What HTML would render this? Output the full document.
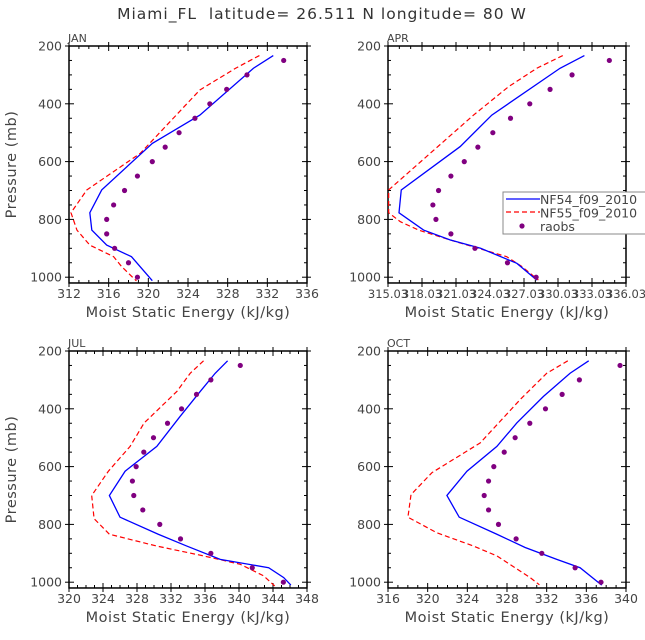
<!DOCTYPE html>
<html><head><meta charset="utf-8"><style>
html,body{margin:0;padding:0;background:#fff}
svg{display:block;font-family:"DejaVu Sans","Liberation Sans",sans-serif}
</style></head><body>
<svg id="chart" width="645" height="640" viewBox="0 0 645 640" xmlns="http://www.w3.org/2000/svg">
<text x="322" y="19" font-size="15.5" letter-spacing="1" text-anchor="middle" fill="#333" xml:space="preserve">Miami_FL  latitude= 26.511 N longitude= 80 W</text>
</svg>
<script>
// ---- data ----
const obsP = [250,300,350,400,450,500,550,600,650,700,750,800,850,900,950,1000];
const janObs = [333.65,329.95,327.9,326.2,324.7,323.1,321.7,320.4,318.9,317.6,316.5,315.8,315.8,316.6,318.0,318.9];
const janBlueP = [233,277,439,537,698,777,837,889,929,1012];
const janBlue = [332.6,330.6,325.2,320.4,315.3,314.1,314.3,315.8,318.3,320.4];
const janRedP = [233,277,352,571,698,777,837,889,929,963,1013];
const janRed = [331.2,328.8,325.2,319.2,313.8,312.2,312.8,314.1,316.5,317.3,318.8];
const aprObs = [334.56,331.27,329.33,327.54,325.84,324.28,322.96,321.76,320.58,319.49,318.99,319.26,320.58,322.70,325.57,328.1];
const aprBlueP = [233,277,439,548,698,777,837,871,900,952,1010];
const aprBlue = [332.36,330.21,324.19,321.4,316.2,316.0,318.17,320.5,323.2,326.4,328.16];
const aprRedP = [233,277,341,439,698,777,808,837,871,929,963,1010];
const aprRed = [330.45,328.16,325.66,322.58,315.09,315.09,316.12,317.73,320.5,325.5,326.84,328.3];
const julObs = [340.15,336.69,335.0,333.24,331.59,329.94,328.8,327.9,327.46,327.62,328.68,330.68,333.12,336.69,341.56,345.22];
const julBlueP = [234,277,340,426,530,616,700,775,834,875,921,950,984,1010];
const julBlue = [338.66,337.2,335.44,333.08,330.33,326.6,324.75,326.0,330.5,333.86,337.79,343.49,345.26,346.1];
const julRedP = [234,277,340,449,530,616,700,780,834,875,909,938,978,1013];
const julRed = [335.83,334.26,332.69,328.84,327.19,324.63,322.67,322.95,324.75,330.33,335.83,340.15,342.9,344.2];
const octObs = [339.4,335.3,333.56,331.88,330.3,328.82,327.72,326.67,326.14,325.7,326.14,327.14,328.92,331.51,334.87,337.48];
const octBlueP = [234,277,357,449,530,616,700,775,834,880,921,950,1010];
const octBlue = [336.24,334.36,331.68,328.99,326.98,323.96,321.94,323.18,326.98,329.83,333.02,335.37,337.55];
const octRedP = [234,277,368,518,621,697,775,829,875,909,950,984,1009];
const octRed = [334.13,332.01,329.33,325.3,320.43,318.32,318.01,320.93,324.63,326.98,328.82,330.33,331.27];
const yTicks = [200,400,600,800,1000];
const janTicks = ["312","316","320","324","328","332","336"];
const aprTicks = ["315.03","318.03","321.03","324.03","327.03","330.03","333.03","336.03"];
const julTicks = ["320","324","328","332","336","340","344","348"];
const octTicks = ["316","320","324","328","332","336","340"];
const legendLabels = ["NF54_f09_2010","NF55_f09_2010","raobs"];

const NS="http://www.w3.org/2000/svg";
const svg=document.getElementById('chart');
function mk(tag,attrs,parent){const e=document.createElementNS(NS,tag);for(const k in attrs)e.setAttribute(k,attrs[k]);(parent||svg).appendChild(e);return e;}

const panels=[
 {name:'jan',label:'JAN',x0:69,x1:307,y0:46,xmin:312,xmax:336,step:4,minor:1,ticks:janTicks,obs:janObs,bp:janBlueP,b:janBlue,rp:janRedP,r:janRed,ytitle:true,legend:false},
 {name:'apr',label:'APR',x0:388,x1:626,y0:46,xmin:315.03,xmax:336.03,step:3,minor:1,ticks:aprTicks,obs:aprObs,bp:aprBlueP,b:aprBlue,rp:aprRedP,r:aprRed,ytitle:false,legend:true},
 {name:'jul',label:'JUL',x0:69,x1:307,y0:351,xmin:320,xmax:348,step:4,minor:1,ticks:julTicks,obs:julObs,bp:julBlueP,b:julBlue,rp:julRedP,r:julRed,ytitle:true,legend:false},
 {name:'oct',label:'OCT',x0:388,x1:626,y0:351,xmin:316,xmax:340,step:4,minor:1,ticks:octTicks,obs:octObs,bp:octBlueP,b:octBlue,rp:octRedP,r:octRed,ytitle:false,legend:false}
];
const PPX=0.289; // px per mb
panels.forEach(P=>{
 const g=mk('g',{});
 
 
 const xs=v=>P.x0+(v-P.xmin)/(P.xmax-P.xmin)*(P.x1-P.x0);
 const ys=p=>P.y0+(p-200)*PPX;
 const yb=ys(1020);
 for(let p=200;p<=1000;p+=50){
  const maj=p%200===0, L=maj?5:3;
  mk('line',{x1:P.x0-(maj?4:0),x2:P.x0+L,y1:ys(p),y2:ys(p),stroke:'#000','stroke-width':1},g);
  mk('line',{x1:P.x1-L,x2:P.x1+(maj?4:0),y1:ys(p),y2:ys(p),stroke:'#000','stroke-width':1},g);
 }
 for(let v=P.xmin;v<=P.xmax+1e-6;v+=P.minor){
  const i=Math.round((v-P.xmin)/P.minor), maj=(i%Math.round(P.step/P.minor))===0, L=maj?5:3;
  mk('line',{x1:xs(v),x2:xs(v),y1:yb-L,y2:yb+(maj?4:0),stroke:'#000','stroke-width':1},g);
  mk('line',{x1:xs(v),x2:xs(v),y1:P.y0-(maj?4:0),y2:P.y0+L,stroke:'#000','stroke-width':1},g);
 }
 mk('rect',{x:P.x0,y:P.y0,width:P.x1-P.x0,height:yb-P.y0,fill:'none',stroke:'#000','stroke-width':1.5},g);
 yTicks.forEach(p=>{
  const t=mk('text',{x:P.x0-7,y:ys(p)+4.5,'font-size':12.5,'text-anchor':'end',fill:'#444'},g);
  
  
  t.textContent=p;
 });
 P.ticks.forEach((s,i)=>{
  const t=mk('text',{x:xs(P.xmin+i*P.step),y:yb+15,'font-size':P.name==='apr'?11.5:12.5,'text-anchor':'middle',fill:'#444'},g);
  
  
  t.textContent=s;
 });
 const lab=mk('text',{x:P.x0-1,y:P.y0-4,'font-size':11,fill:'#444'},g);
 
 
 lab.textContent=P.label;
 const xt=mk('text',{x:(P.x0+P.x1)/2,y:yb+34,'font-size':14.5,'letter-spacing':0.5,'text-anchor':'middle',fill:'#444'},g);
 
 
 xt.textContent='Moist Static Energy (kJ/kg)';
 if(P.ytitle){
  const cy=(P.y0+yb)/2;
  const yt=mk('text',{x:16,y:cy,'font-size':14.5,'letter-spacing':0.5,'text-anchor':'middle',fill:'#444',transform:'rotate(-90 16 '+cy+')'},g);
  
  
  yt.textContent='Pressure (mb)';
 }
 const rl=mk('polyline',{points:P.r.map((v,i)=>xs(v)+','+ys(P.rp[i])).join(' '),fill:'none',stroke:'#ff0000','stroke-width':1.2,'stroke-dasharray':'5,3'},g);
 
 
 const bl=mk('polyline',{points:P.b.map((v,i)=>xs(v)+','+ys(P.bp[i])).join(' '),fill:'none',stroke:'#0000ff','stroke-width':1.3},g);
 
 
 P.obs.forEach((v,i)=>{
  const c=mk('circle',{cx:xs(v),cy:ys(obsP[i]),r:2.6,fill:'#800080'},g);
  
  
 });
 if(P.legend){
  const lg=mk('g',{},g);
  
  
  mk('rect',{x:503,y:192,width:150,height:42,fill:'#fff',stroke:'#888','stroke-width':1},lg);
  mk('line',{x1:506,x2:540,y1:199,y2:199,stroke:'#0000ff','stroke-width':1.3},lg);
  mk('line',{x1:506,x2:540,y1:212,y2:212,stroke:'#ff0000','stroke-width':1.2,'stroke-dasharray':'5,3'},lg);
  mk('circle',{cx:522,cy:226,r:2.6,fill:'#800080'},lg);
  legendLabels.forEach((s,i)=>{
   const t=mk('text',{x:540,y:204+i*13.5,'font-size':12.5,fill:'#444'},lg);
   
   
   t.textContent=s;
  });
 }
});
</script>
</body></html>
